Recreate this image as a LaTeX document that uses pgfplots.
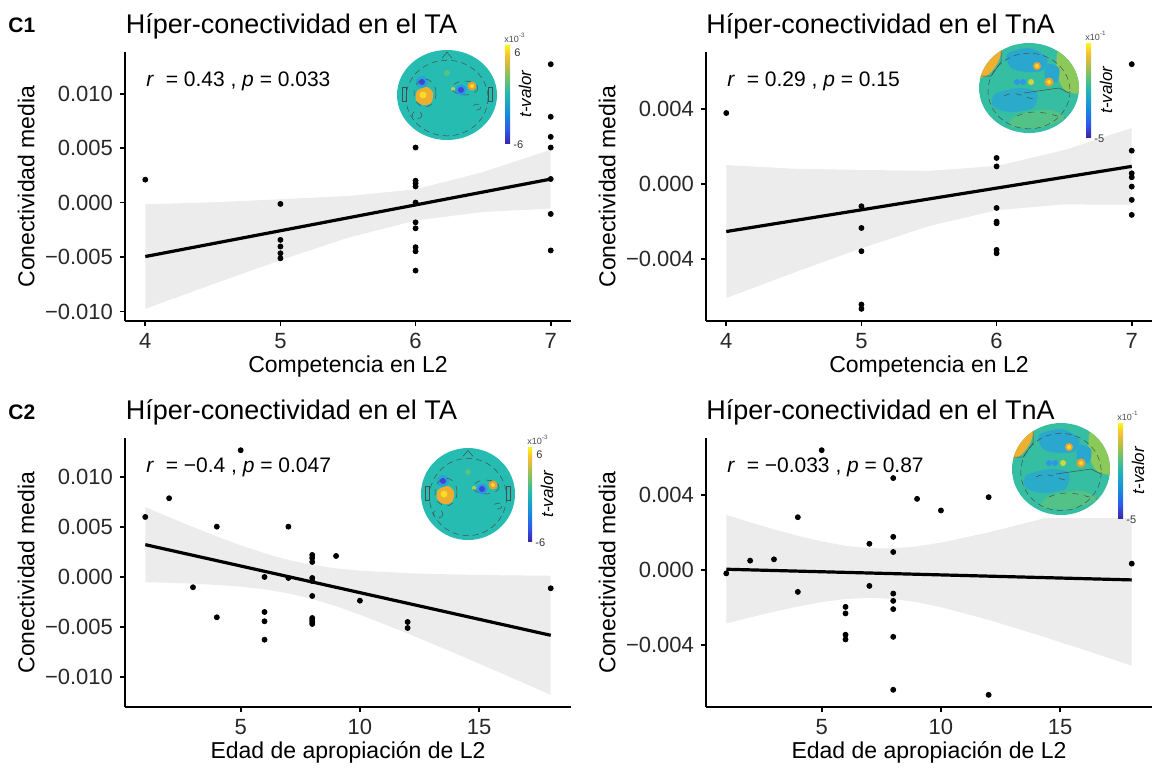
\documentclass[border=0pt]{standalone}
\usepackage{pgfplots}
\pgfplotsset{compat=1.18}
\usepackage{fontspec}
\setmainfont{Liberation Sans}

\definecolor{bandgrey}{RGB}{214,214,214}
\definecolor{ptl}{RGB}{38,188,178}
\definecolor{pyel}{RGB}{250,220,40}
\definecolor{porg}{RGB}{235,160,50}
\definecolor{pblu}{RGB}{60,70,215}
\definecolor{pcyn}{RGB}{45,150,230}
\definecolor{pgrn}{RGB}{120,198,100}
\definecolor{ticktext}{RGB}{40,40,40}

% TikZ maps the path onto the middle half (25bp..75bp) of the shading
\pgfdeclareverticalshading{parula}{100bp}{rgb(0bp)=(0.24,0.15,0.66); rgb(25bp)=(0.24,0.15,0.66); rgb(32bp)=(0.18,0.35,0.93); rgb(40bp)=(0.09,0.55,0.87); rgb(50bp)=(0.13,0.72,0.70); rgb(57bp)=(0.40,0.76,0.45); rgb(65bp)=(0.80,0.74,0.25); rgb(70bp)=(0.98,0.76,0.20); rgb(75bp)=(0.98,0.98,0.08); rgb(100bp)=(0.98,0.98,0.08)}

\pgfplotsset{
  panel/.style={
    scale only axis, width=223pt, height=134.5pt, anchor=south west,
    axis x line*=bottom, axis y line*=left,
    axis line style={line width=0.9pt, black, -},
    every tick/.style={black, line width=0.9pt},
    major tick length=2.5pt, tick align=outside,
    scaled y ticks=false, scaled x ticks=false,
    tick label style={font=\fontsize{11pt}{12pt}\selectfont, text=ticktext},
    label style={font=\fontsize{11.5pt}{13pt}\selectfont},
    xlabel style={at={(axis description cs:0.5,-0.193)}, anchor=base, inner sep=0pt},
    ylabel style={at={(axis description cs:-0.202,0.5)}, anchor=south, inner sep=0pt},
    ylabel={Conectividad media},
  },
  pts/.style={only marks, mark=*, mark size=1.25pt, black},
  band/.style={draw=none, fill=bandgrey, fill opacity=0.47},
  fit/.style={black, line width=1.6pt},
}

% scalp map inset, drawn in px units (y down)
\newcommand{\headTA}[4]{% cx cy rx ry
  \begin{scope}[shift={(#1,#2)}]
    \fill[ptl] (0,0) ellipse ({#3} and {#4});
    \begin{scope}
      \clip (0,0) ellipse ({#3} and {#4});
      \fill[pcyn!70!ptl] (-25,-13) circle (6);
      \fill[pblu] (-25,-13) circle (3);
      \fill[porg!80!pyel] plot[smooth cycle] coordinates {(-30,-4) (-20,-8) (-14,-2) (-16,8) (-24,10) (-31,5)};
      \fill[pyel] (-24,0) circle (3.5);
      \fill[pgrn!60!ptl] (0,-22) circle (3);
      \fill[pcyn] (14,-5) circle (5.5);
      \fill[pblu] (14,-5) circle (3);
      \fill[porg] (25,-9) circle (4.5);
      \fill[pyel] (25,-9) circle (2);
      \fill[pyel!70!ptl] (6,-6) circle (2);
      \draw[black!70, densely dashed, line width=0.25pt] (0,3) ellipse ({0.82*#3} and {0.84*#4});
      \draw[black!70, dashed, line width=0.25pt] (-22,-2) ellipse (11 and 14);
      \draw[black!70, dashed, line width=0.25pt] (18,-7) ellipse (13 and 7);
      \draw[black!70, dashed, line width=0.25pt] (-30,20) ellipse (5 and 4);
      \draw[black!70, dashed, line width=0.25pt] (30,12) ellipse (4 and 3);
      \draw[black!70, line width=0.25pt] (-5,{-0.84*#4+1}) -- (0,{-0.84*#4-5}) -- (5,{-0.84*#4+1});
      \draw[black!70, line width=0.25pt] ({-0.82*#3},-8) rectangle ({-0.82*#3-4},6);
      \draw[black!70, line width=0.25pt] ({0.82*#3},-8) rectangle ({0.82*#3+4},6);
    \end{scope}
  \end{scope}}
\newcommand{\headTnA}[4]{%
  \begin{scope}[shift={(#1,#2)}]
    \fill[ptl!80!pgrn] (0,0) ellipse ({#3} and {#4});
    \begin{scope}
      \clip (0,0) ellipse ({#3} and {#4});
      \fill[porg!75!pyel] plot[smooth cycle] coordinates {(-52,-45) (-28,-44) (-30,-28) (-40,-14) (-52,-12)};
      \fill[pcyn!55!ptl] plot[smooth cycle] coordinates {(-22,-34) (0,-40) (18,-30) (14,-18) (-2,-16) (-18,-20)};
      \fill[pgrn!85!pyel] plot[smooth cycle] coordinates {(30,-38) (52,-25) (52,4) (36,2) (28,-14)};
      \fill[pcyn!55!ptl] plot[smooth cycle] coordinates {(18,-24) (30,-20) (28,-6) (16,-10)};
      \fill[pcyn!45!ptl] plot[smooth cycle] coordinates {(-34,6) (-10,0) (8,4) (4,20) (-20,24) (-36,18)};
      \fill[pgrn!55!ptl] plot[smooth cycle] coordinates {(-10,26) (20,22) (36,30) (10,40) (-20,38)};
      \fill[porg] (8,-22) circle (4); \fill[pyel] (8,-22) circle (2);
      \fill[porg] (20,-6) circle (4.5); \fill[pyel] (20,-6) circle (2);
      \fill[pyel!70!pgrn] (2,-6) circle (3);
      \fill[pcyn] (-12,-6) circle (3); \fill[pcyn] (-6,-6) circle (3);
      \draw[black!70, densely dashed, line width=0.25pt] (0,3) ellipse ({0.82*#3} and {0.84*#4});
      \draw[black!70, line width=0.25pt] (-50,-12) -- (-38,-12) -- (-28,-26) -- (-28,-45);
      \draw[black!70, line width=0.25pt] (-5,5) -- (30,0) -- (40,5);
      \draw[black!70, dashed, line width=0.25pt] (-25,8) .. controls (-10,0) and (0,15) .. (10,10);
      \draw[black!70, dashed, line width=0.25pt] (-12,28) .. controls (5,20) and (20,26) .. (36,30);
    \end{scope}
  \end{scope}}
\newcommand{\cbar}[7]{% x1 y1 x2 y2 top-label bottom-label exponent
  \shade[shading=parula] (#1,#2) rectangle (#3,#4);
  \node[anchor=base west, inner sep=0pt, font=\fontsize{4.5pt}{5pt}\selectfont, text=black!70] at (#1-1,#2-3) {x10\textsuperscript{#7}};
  \node[anchor=west, inner sep=0pt, font=\fontsize{5.5pt}{6pt}\selectfont, text=black!80] at (#3+4,#2+8) {#5};
  \node[anchor=west, inner sep=0pt, font=\fontsize{5.5pt}{6pt}\selectfont, text=black!80] at (#3+3,#4+2) {#6};
  \node[rotate=90, inner sep=0pt, font=\fontsize{8.5pt}{9pt}\selectfont\itshape] at (#3+15,{(#2+#4)/2}) {t-valor};}

\begin{document}
\begin{tikzpicture}
\path[use as bounding box] (0,0) rectangle (577.5pt,-384pt);

% ---------- C1 left: TA vs competencia
\begin{axis}[panel, at={(62.5pt,-160.5pt)},
  xmin=3.85, xmax=7.15, ymin=-0.01088, ymax=0.01382,
  xtick={4,5,6,7}, xticklabels={4,5,6,7},
  ytick={-0.01,-0.005,0,0.005,0.01},
  yticklabels={−0.010,−0.005,0.000,0.005,0.010},
  xlabel={Competencia en L2}]
\addplot[pts] coordinates {
 (4,0.0021)
 (5,-0.00013)(5,-0.00343)(5,-0.00404)(5,-0.00466)(5,-0.00512)
 (6,0.00505)(6,0.0020)(6,0.00176)(6,0.00148)(6,0.0000)(6,-0.00182)(6,-0.00237)(6,-0.0041)(6,-0.00448)(6,-0.00625)
 (7,0.0127)(7,0.00787)(7,0.00603)(7,0.00505)(7,0.00216)(7,-0.00105)(7,-0.0044)};
\addplot[band] coordinates {
 (4,-0.00016)(4.5,0.00002)(5,0.0003)(5.5,0.0006)(6,0.00121)(6.5,0.0028)(7,0.00485)
 (7,-0.00055)(6.5,-0.000865)(6,-0.00165)(5.5,-0.003235)(5,-0.00529)(4.5,-0.0075)(4,-0.00976)};
\addplot[fit] coordinates {(4,-0.00496)(7,0.00215)};
\end{axis}

% ---------- C1 right: TnA vs competencia
\begin{axis}[panel, at={(353pt,-160.5pt)},
  xmin=3.85, xmax=7.15, ymin=-0.00732, ymax=0.00705,
  xtick={4,5,6,7}, xticklabels={4,5,6,7},
  ytick={-0.004,0,0.004},
  yticklabels={−0.004,0.000,0.004},
  xlabel={Competencia en L2}]
\addplot[pts] coordinates {
 (4,0.00379)
 (5,-0.00119)(5,-0.00235)(5,-0.00359)(5,-0.00644)(5,-0.00667)
 (6,0.00139)(6,0.00094)(6,-0.00128)(6,-0.00201)(6,-0.0021)(6,-0.00352)(6,-0.0037)
 (7,0.0064)(7,0.00178)(7,0.00057)(7,0.00036)(7,-0.00014)(7,-0.00085)(7,-0.00165)};
\addplot[band] coordinates {
 (4,0.00101)(4.5,0.000815)(5,0.00075)(5.5,0.0007)(6,0.00096)(6.5,0.00181)(7,0.00299)
 (7,-0.00111)(6.5,-0.00109)(6,-0.0014)(5.5,-0.00225)(5,-0.00343)(4.5,-0.004735)(4,-0.00609)};
\addplot[fit] coordinates {(4,-0.00254)(7,0.00094)};
\end{axis}

% ---------- C2 left: TA vs edad
\begin{axis}[panel, at={(62.5pt,-353.5pt)},
  xmin=0.15, xmax=18.85, ymin=-0.0130, ymax=0.01389,
  xtick={5,10,15}, xticklabels={5,10,15},
  ytick={-0.01,-0.005,0,0.005,0.01},
  yticklabels={−0.010,−0.005,0.000,0.005,0.010},
  xlabel={Edad de apropiación de L2}]
\addplot[pts] coordinates {
 (1,0.0060)(2,0.00787)(3,-0.00103)(4,0.00503)(4,-0.00403)(5,0.01267)
 (6,0.0)(6,-0.0035)(6,-0.00443)(6,-0.00627)
 (7,0.00503)(7,-0.0001)
 (8,0.0022)(8,0.0019)(8,0.0015)(8,-0.0001)(8,-0.0004)(8,-0.0019)(8,-0.0041)(8,-0.0043)(8,-0.0045)(8,-0.0047)
 (9,0.0021)(10,-0.00237)(12,-0.0045)(12,-0.0051)(18,-0.00113)};
\addplot[band] coordinates {
 (1,0.00698)(2,0.005977)(3,0.004994)(4,0.004051)(5,0.003158)(6,0.002365)(7,0.001698)(8,0.001199)(9,0.000856)(10,0.000633)(12,0.000375)(14,0.000244)(16,0.000167)(18,0.000119)
 (18,-0.011781)(16,-0.009697)(14,-0.007642)(12,-0.005641)(10,-0.003767)(9,-0.002924)(8,-0.002201)(7,-0.001634)(6,-0.001235)(5,-0.000962)(4,-0.000789)(3,-0.000666)(2,-0.000583)(1,-0.00052)};
\addplot[fit] coordinates {(1,0.00323)(18,-0.00583)};
\end{axis}

% ---------- C2 right: TnA vs edad
\begin{axis}[panel, at={(353pt,-353.5pt)},
  xmin=0.15, xmax=18.85, ymin=-0.00732, ymax=0.00705,
  xtick={5,10,15}, xticklabels={5,10,15},
  ytick={-0.004,0,0.004},
  yticklabels={−0.004,0.000,0.004},
  xlabel={Edad de apropiación de L2}]
\addplot[pts] coordinates {
 (1,-0.00018)(2,0.0005)(3,0.00057)(4,0.00282)(4,-0.00117)(5,0.0064)
 (6,-0.00197)(6,-0.00232)(6,-0.00346)(6,-0.00371)
 (7,0.0014)(7,-0.00085)
 (8,0.00491)(8,0.00177)(8,0.00096)(8,-0.00126)(8,-0.00165)(8,-0.00209)(8,-0.00357)(8,-0.0064)
 (9,0.0038)(10,0.00318)(12,0.00389)(12,-0.00667)(18,0.00034)};
\addplot[band] coordinates {
 (1,0.00294)(2,0.002548)(3,0.002174)(4,0.001829)(5,0.001527)(6,0.001296)(7,0.001164)(8,0.001156)(9,0.001264)(10,0.00146)(12,0.002007)(14,0.002652)(16,0.00334)(18,0.00405)
 (18,-0.00511)(16,-0.004265)(14,-0.003443)(12,-0.002664)(10,-0.001984)(9,-0.00172)(8,-0.001545)(7,-0.001486)(6,-0.00155)(5,-0.001715)(4,-0.00195)(3,-0.002228)(2,-0.002535)(1,-0.00286)};
\addplot[fit] coordinates {(1,0.00004)(18,-0.00053)};
\end{axis}

% ---------- scalp-map insets (px units, y down)
\begin{scope}[x=0.5pt, y=-0.5pt]
  \headTA{447}{95}{50}{45}
  \cbar{505}{45}{510}{143}{6}{-6}{-3}
  \headTnA{1029}{88}{50}{45}
  \cbar{1086}{43}{1091}{137}{}{-5}{-1}
  \headTA{468}{494}{47}{46}
  \cbar{528}{447}{532}{541}{6}{-6}{-3}
  \fill[white] (1040,430) rectangle (1155,518);
  \headTnA{1061}{469}{49}{46}
  \cbar{1118}{423}{1123}{518}{}{-5}{-1}
\end{scope}

% ---------- titles, panel tags, correlation text
\begin{scope}[every node/.style={inner sep=0pt, anchor=base west}]
\node[font=\bfseries\fontsize{10.5pt}{12pt}\selectfont] at (4pt,-16pt) {C1};
\node[font=\bfseries\fontsize{10.5pt}{12pt}\selectfont] at (4pt,-209.5pt) {C2};
\node[font=\fontsize{13.5pt}{15pt}\selectfont] at (62.75pt,-16.5pt) {Híper-conectividad en el TA};
\node[font=\fontsize{13.5pt}{15pt}\selectfont] at (353pt,-16.5pt) {Híper-conectividad en el TnA};
\node[font=\fontsize{13.5pt}{15pt}\selectfont] at (62.75pt,-209.5pt) {Híper-conectividad en el TA};
\node[font=\fontsize{13.5pt}{15pt}\selectfont] at (353pt,-209.5pt) {Híper-conectividad en el TnA};
\node[font=\fontsize{10.5pt}{12pt}\selectfont] at (73pt,-43pt) {\textit{r}\ \ = 0.43 , \textit{p} = 0.033};
\node[font=\fontsize{10.5pt}{12pt}\selectfont] at (363.5pt,-43pt) {\textit{r}\ \ = 0.29 , \textit{p} = 0.15};
\node[font=\fontsize{10.5pt}{12pt}\selectfont] at (73pt,-236pt) {\textit{r}\ \ = −0.4 , \textit{p} = 0.047};
\node[font=\fontsize{10.5pt}{12pt}\selectfont] at (363.5pt,-236pt) {\textit{r}\ \ = −0.033 , \textit{p} = 0.87};
\end{scope}
\end{tikzpicture}
\end{document}
